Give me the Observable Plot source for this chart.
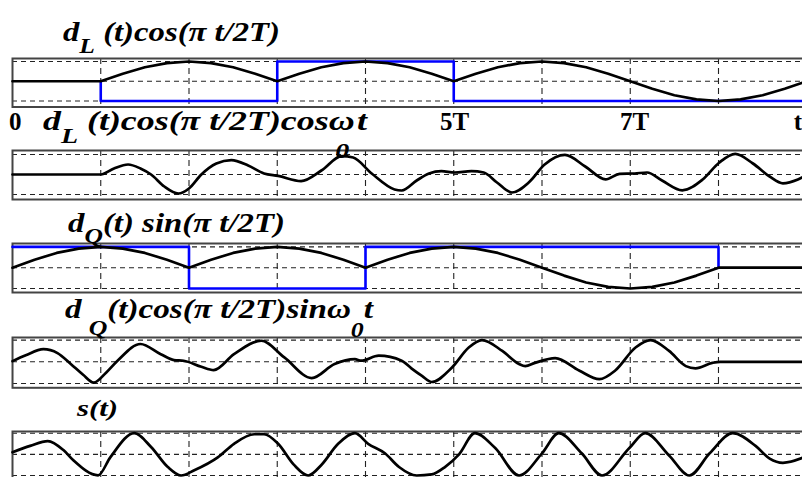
<!DOCTYPE html>
<html><head><meta charset="utf-8">
<script src="https://cdn.jsdelivr.net/npm/d3@7"></script>
<script src="https://cdn.jsdelivr.net/npm/@observablehq/plot@0.6"></script>
<style>
html,body{margin:0;padding:0;background:#fff;overflow:hidden}
#wrap{position:relative;width:802px;height:477px;overflow:hidden;background:#fff}
.panel{position:absolute;left:0;width:812px}
.lbl{position:absolute;font-family:"Liberation Serif","Times New Roman",serif;font-weight:bold;font-style:italic;white-space:nowrap;line-height:1;color:#000;transform-origin:0 0}
.lbl sub{font-size:0.78em;vertical-align:baseline;position:relative}
</style></head><body><div id="wrap"></div>
<script>
// ---------- data (t in units of T) ----------
const tGrid = [0,0.25,0.5,0.75,1,1.25,1.5,1.75,2,2.25,2.5,2.75,3,3.25,3.5,3.75,4,4.25,4.5,4.75,5,5.25,5.5,5.75,6,6.25,6.5,6.75,7,7.25,7.5,7.75,8,8.25,8.5,8.75,9];
// panel 1: dL(t)cos(pi t/2T)
const dLcosVals = [0,0,0,0,0,0.38,0.71,0.92,1,0.92,0.71,0.38,0,0.38,0.71,0.92,1,0.92,0.71,0.38,0,0.38,0.71,0.92,1,0.92,0.71,0.38,0,-0.38,-0.71,-0.92,-1,-0.92,-0.71,-0.38,0];
// panel 3: dQ(t)sin(pi t/2T)
const dQsinVals = [0,0.38,0.71,0.92,1,0.92,0.71,0.38,0,0.38,0.71,0.92,1,0.92,0.71,0.38,0,0.38,0.71,0.92,1,0.92,0.71,0.38,0,-0.38,-0.71,-0.92,-1,-0.92,-0.71,-0.38,0,0,0,0,0];
// data bits (blue square waves)
const dLStepT = [1,1,3,5,9.1];
const dLStepV = [0,-1,1,-1,-1];
const dQStepT = [0,2,4,8];
const dQStepV = [1,-1,1,0];
// panel 2: dL(t)cos(pi t/2T)cos w0 t
const iT = [0,1,1.15,1.31,1.45,1.57,1.72,1.88,2.0,2.14,2.31,2.48,2.67,2.85,3.01,3.27,3.5,3.73,3.86,4.07,4.33,4.41,4.58,4.72,4.86,5.01,5.2,5.34,5.49,5.66,5.85,6.03,6.26,6.49,6.72,6.88,7.05,7.19,7.36,7.59,7.82,8.01,8.19,8.39,8.58,8.73,8.9,8.98];
const iV = [0,0,0.3,0.5,0.3,0,-0.6,-0.95,-0.7,0,0.55,0.72,0.45,0.05,-0.07,-0.33,0.2,0.92,0.85,0.05,-0.75,-0.8,-0.3,0.05,0.17,0.1,0.17,0.1,-0.4,-0.9,-0.4,0.5,0.98,0.4,-0.24,0.03,0.05,0.1,-0.3,-0.79,-0.25,0.6,1.03,0.55,-0.1,-0.44,-0.25,-0.08];
// panel 4: dQ(t)cos(pi t/2T)sin w0 t
const qT = [0,0.15,0.35,0.51,0.66,0.8,0.92,1.06,1.19,1.45,1.68,1.83,1.94,2.14,2.28,2.51,2.82,3.08,3.39,3.65,3.88,3.95,4.15,4.41,4.52,4.64,4.75,4.98,5.17,5.32,5.55,5.74,5.81,5.92,6.15,6.42,6.65,6.83,7.06,7.23,7.44,7.63,7.74,7.93,8.02,8.98];
const qV = [0.03,0.3,0.58,0.4,-0.1,-0.6,-0.96,-0.5,0.05,0.82,0.35,0.08,0.05,-0.23,-0.38,0.35,0.97,0.2,-0.75,-0.1,0.12,0.05,0.28,0.05,-0.3,-0.65,-0.93,-0.26,0.66,1.0,0.5,-0.1,-0.2,-0.05,0.17,-0.4,-0.8,-0.4,0.66,1.0,0.5,-0.2,-0.3,-0.05,0,0];
// panel 5: s(t)
const sT = [0,0.2,0.4,0.58,0.69,0.97,1.11,1.38,1.57,1.76,1.91,2.06,2.33,2.51,2.74,2.85,3.01,3.19,3.35,3.5,3.69,3.88,4.03,4.22,4.38,4.58,4.75,4.9,5.06,5.24,5.47,5.74,6.0,6.19,6.45,6.68,6.99,7.17,7.44,7.67,7.9,8.16,8.42,8.58,8.73,8.98];
const sV = [0.1,0.4,0.63,0.19,-0.28,-0.99,-0.13,1.0,0.35,-0.6,-1.0,-0.75,-0.13,0.5,0.95,0.95,0.5,-0.5,-1.0,-0.5,0.5,1.0,0.5,0.05,-0.6,-1.0,-0.95,-0.6,0,1.0,0.3,-1.0,0.05,1.0,0.05,-1.0,0.3,1.0,-0.05,-1.0,0.05,1.0,0.4,-0.2,-0.4,-0.12];
// grid and tick labels
const gridT = [1,2,3,4,5,6,7,8,9];
const levels = [-1,0,1];
const tickPos = [0.03,5.01,7.05,8.9];
const tickLabels = ["0","5T","7T","t"];

// ---------- helpers ----------
const zip = (ts, vs) => ts.map((t, i) => ({t, v: vs[i]}));
const wrap = document.getElementById("wrap");
const PX_PER_T = 88.25;
const W = 812, ML = 12;

function panel(cfg, marks) {
  const s = (cfg.pm1 - cfg.p1) / 2;
  const hi = 1 + (cfg.p1 - cfg.boxTop) / s;
  const lo = -1 - (cfg.boxBot - cfg.pm1) / s;
  const mt = 3, mb = cfg.mb ?? 3;
  const base = [
    Plot.ruleY(levels, {stroke: "#222", strokeWidth: 1.1, strokeDasharray: "5,4"}),
    Plot.ruleX(gridT, {stroke: "#222", strokeWidth: 1.1, strokeDasharray: "6,4"}),
    Plot.frame({stroke: "#444", strokeWidth: 2})
  ];
  const svg = Plot.plot({
    width: W,
    height: (cfg.boxBot - cfg.boxTop) + mt + mb,
    marginTop: mt, marginBottom: mb, marginLeft: ML, marginRight: 0,
    x: cfg.axis ? {domain: [0, (W - ML) / PX_PER_T], label: null} : {domain: [0, (W - ML) / PX_PER_T], axis: null, label: null},
    y: {domain: [lo, hi], axis: null, label: null},
    style: {maxWidth: "none", background: "transparent", overflow: "visible"},
    marks: [...base, ...marks]
  });
  const div = document.createElement("div");
  div.className = "panel";
  div.style.top = (cfg.boxTop - mt) + "px";
  div.appendChild(svg);
  wrap.appendChild(div);
}

const black = {x: "t", y: "v", stroke: "#000", strokeWidth: 2.7};
const blue = {x: "t", y: "v", stroke: "#0000ff", strokeWidth: 2.6, curve: "step-after"};
const labelMap = new Map(tickPos.map((p, i) => [p, tickLabels[i]]));

panel({boxTop: 57.5, boxBot: 106, p1: 60.5, pm1: 100, mb: 34, axis: true}, [
  Plot.line(zip(dLStepT, dLStepV), blue),
  Plot.line(zip(tGrid, dLcosVals), {...black, curve: "linear"}),
  Plot.axisX(tickPos, {tickSize: 0, tickPadding: 5, label: null, tickFormat: d => labelMap.get(d),
    fontSize: 25, fontWeight: "bold", fontFamily: "Liberation Serif, Times New Roman, serif", fill: "#000"})
]);
panel({boxTop: 150, boxBot: 199, p1: 154, pm1: 194}, [
  Plot.line(zip(iT, iV), {...black, curve: "monotone-x"})
]);
panel({boxTop: 243.3, boxBot: 292.3, p1: 246.7, pm1: 288.3}, [
  Plot.line(zip(dQStepT, dQStepV), blue),
  Plot.line(zip(tGrid, dQsinVals), {...black, curve: "linear"})
]);
panel({boxTop: 336.7, boxBot: 387, p1: 339.3, pm1: 382.7}, [
  Plot.line(zip(qT, qV), {...black, curve: "monotone-x"})
]);
panel({boxTop: 431, boxBot: 481, p1: 432.7, pm1: 475}, [
  Plot.line(zip(sT, sV), {...black, curve: "monotone-x"})
]);

// ---------- labels ----------
const labels = [
  {html: 'd<sub style="top:12px">L</sub> (t)cos(π t/2T)', left: 63, base: 41, fs: 28, w: 217},
  {html: 'd<sub style="top:13px">L</sub> (t)cos(π t/2T)cosω<sub style="top:28px;margin-left:-15px;margin-right:6px">0</sub>t', left: 43, base: 130, fs: 28, w: 324},
  {html: 'd<sub style="top:11px">Q</sub>(t) sin(π t/2T)', left: 68, base: 232, fs: 28, w: 217},
  {html: 'd<sub style="top:17px;margin-left:6px">Q</sub>(t)cos(π t/2T)sinω<sub style="top:19px">0</sub>t', left: 65, base: 318, fs: 28, w: 308},
  {html: 's(t)', left: 77, base: 416, fs: 24, w: 41}
];
for (const L of labels) {
  const el = document.createElement("div");
  el.className = "lbl";
  el.innerHTML = L.html;
  el.style.fontSize = L.fs + "px";
  el.style.left = L.left + "px";
  el.style.top = (L.base - 0.8375 * L.fs) + "px";
  wrap.appendChild(el);
  const w = el.getBoundingClientRect().width;
  el.style.transform = `scaleX(${L.w / w})`;
}
</script></body></html>
